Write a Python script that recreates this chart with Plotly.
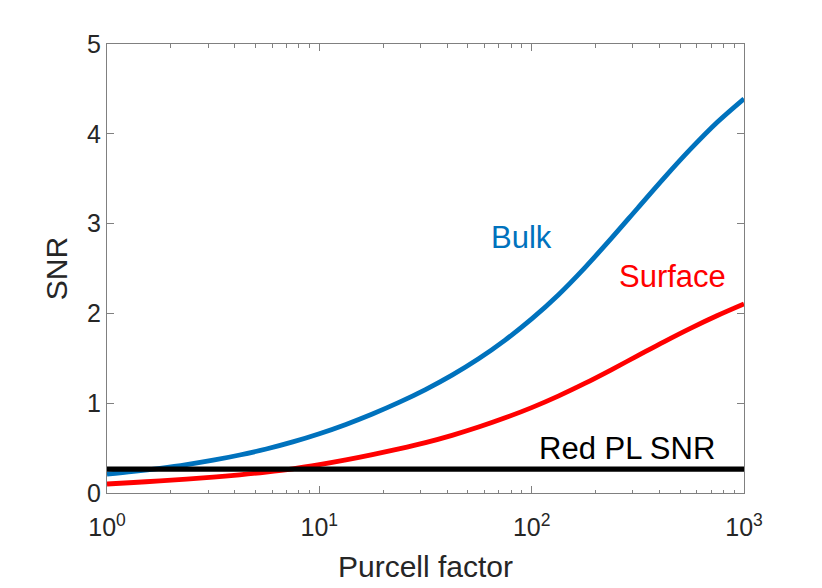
import numpy as np
import plotly.graph_objects as go

# -- Datos (eje x: factor de Purcell, 8 puntos por década) --
purcell = [1, 1.334, 1.778, 2.371, 3.162, 4.217, 5.623, 7.499, 10, 13.34, 17.78, 23.71,
           31.62, 42.17, 56.23, 74.99, 100, 133.4, 177.8, 237.1, 316.2, 421.7, 562.3, 749.9, 1000]

snr_bulk = [0.21, 0.24, 0.275, 0.316, 0.365, 0.423, 0.49, 0.569, 0.66, 0.764, 0.88, 1.009,
            1.152, 1.313, 1.495, 1.703, 1.939, 2.206, 2.508, 2.835, 3.174, 3.512, 3.834,
            4.131, 4.39]

snr_surface = [0.10, 0.117, 0.135, 0.155, 0.178, 0.203, 0.233, 0.269, 0.315, 0.368, 0.427,
               0.491, 0.561, 0.642, 0.734, 0.837, 0.951, 1.079, 1.220, 1.372, 1.530, 1.687,
               1.837, 1.977, 2.106]

purcell_red_pl = [1, 1000]
snr_red_pl = [0.265, 0.265]

x_ticks = [1, 10, 100, 1000]
x_ticktext = ["10<sup>0</sup>", "10<sup>1</sup>", "10<sup>2</sup>", "10<sup>3</sup>"]

AZUL = "#0072BD"
ROJO = "#FF0000"
EJE = "#808080"
TEXTO = "#262626"
FUENTE = "Liberation Sans, Arial, sans-serif"

# -- Graficar -------------------------------------------------------------------
fig = go.Figure()

fig.add_trace(go.Scatter(x=purcell, y=snr_bulk, mode="lines", name="Bulk",
                         line=dict(color=AZUL, width=4.8, shape="spline")))
fig.add_trace(go.Scatter(x=purcell, y=snr_surface, mode="lines", name="Surface",
                         line=dict(color=ROJO, width=4.8, shape="spline")))
fig.add_trace(go.Scatter(x=purcell_red_pl, y=snr_red_pl, mode="lines", name="Red PL SNR",
                         line=dict(color="black", width=5.2)))

# ticks menores en cada década (2..9)
minor_vals = [m * 10 ** d for d in range(3) for m in range(2, 10)]

fig.update_xaxes(
    type="log", range=[0, 3],
    tickmode="array", tickvals=x_ticks, ticktext=x_ticktext,
    ticks="inside", ticklen=7, tickcolor=EJE, tickwidth=1,
    minor=dict(tickmode="array", tickvals=minor_vals, ticks="inside",
               ticklen=3.5, tickcolor=EJE, showgrid=False),
    showline=True, linecolor=EJE, linewidth=1, mirror="ticks",
    showgrid=False, zeroline=False,
    ticklabelstandoff=12,
    tickfont=dict(family=FUENTE, size=25, color=TEXTO),
    title=dict(text="Purcell factor", font=dict(family=FUENTE, size=30, color=TEXTO), standoff=15),
)
fig.update_yaxes(
    range=[0, 5], tickmode="linear", tick0=0, dtick=1,
    ticks="inside", ticklen=7, tickcolor=EJE, tickwidth=1,
    showline=True, linecolor=EJE, linewidth=1, mirror="ticks",
    showgrid=False, zeroline=False,
    tickfont=dict(family=FUENTE, size=25, color=TEXTO),
    title=dict(text="SNR", font=dict(family=FUENTE, size=30, color=TEXTO), standoff=10),
)

etiquetas = [("Bulk", 90, 2.84, AZUL), ("Surface", 459, 2.41, ROJO), ("Red PL SNR", 281, 0.50, "black")]
for texto, xf, yv, color in etiquetas:
    fig.add_annotation(x=np.log10(xf), y=yv, text=texto, showarrow=False,
                       font=dict(family=FUENTE, size=31, color=color))

# la página añade 8 px de margen al cuerpo, se compensa aquí
fig.update_layout(
    width=822, height=588,
    margin=dict(l=99, r=86, t=36, b=103, autoexpand=False),
    plot_bgcolor="white", paper_bgcolor="white",
    showlegend=False,
)

fig.write_html("out.html")
